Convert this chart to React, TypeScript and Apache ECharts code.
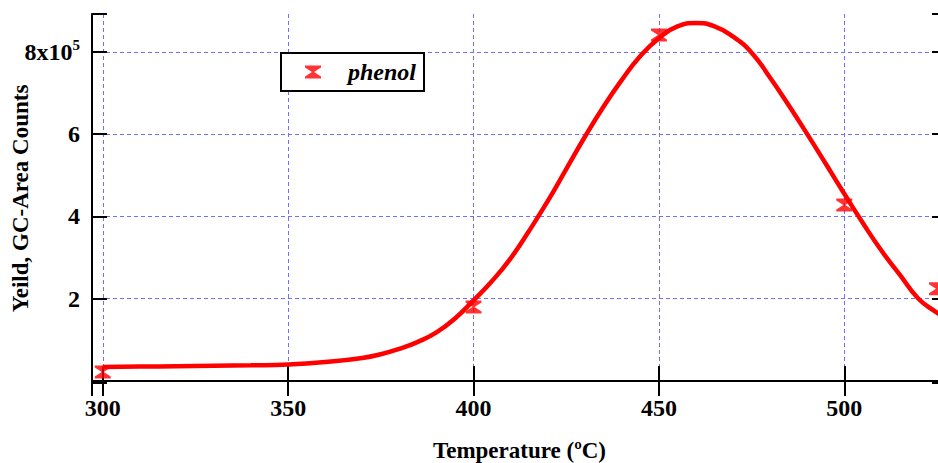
import React, { useEffect, useRef } from "react";
import * as echarts from "echarts";

// Measured phenol yields (GC area counts) at each pyrolysis temperature
const measuredTemps = [300, 400, 450, 500, 525];
const measuredYields = [22000, 180000, 841000, 428000, 224000];

// Fitted yield curve
const fitTemps = [
  300, 310, 320, 330, 340, 350, 360, 370, 375, 380, 385, 390, 395, 400, 405, 410, 415, 420, 425, 430,
  435, 440, 445, 450, 455, 460, 465, 470, 475, 480, 485, 490, 495, 500, 505, 510, 515, 520, 525, 528,
];
const fitYields = [
  34000, 35000, 36000, 37000, 38000, 40000, 46000, 56000, 65000, 78000, 95000, 118000, 152000, 196000, 243000, 298000, 365000, 437000, 515000, 593000,
  666000, 732000, 790000, 833000, 862000, 870000, 862000, 837000, 798000, 737000, 670000, 600000, 528000, 455000, 384000, 317000, 258000, 200000, 166000, 148000,
];

const xTickLabels = ["300", "350", "400", "450", "500"];
const yTickLabels = ["2", "4", "6"];

const SERIF = "'Liberation Serif', 'Times New Roman', serif";
const HOURGLASS = "path://M0,0H16V2L9,6.5L16,11V13H0V11L7,6.5L0,2Z";

export default function App() {
  const ref = useRef<HTMLDivElement>(null);

  useEffect(() => {
    if (!ref.current) return;
    const chart = echarts.init(ref.current, null, { renderer: "svg" });

    const xMin = 297.1;
    const xMax = 527.7;
    const yMin = -4900;
    const yMax = 892000;

    const axisLine = { show: true, lineStyle: { color: "#000", width: 2 } };
    const axisTick = { show: true, inside: true, length: 15, lineStyle: { color: "#000", width: 2 } };
    const gridLine = {
      show: true,
      showMinLine: false,
      showMaxLine: false,
      lineStyle: { color: "#7070ff", width: 1, type: [4, 3] as any },
    };

    chart.setOption({
      animation: false,
      backgroundColor: "#fff",
      grid: { left: 92, right: 13, top: 14, bottom: 80, containLabel: false, outerBoundsMode: "none" },
      legend: {
        data: [{ name: "phenol", icon: HOURGLASS }],
        left: 281,
        top: 53,
        orient: "horizontal",
        itemWidth: 16,
        itemHeight: 13,
        padding: [7, 8, 7, 24],
        borderColor: "#000",
        borderWidth: 2,
        backgroundColor: "#fff",
        selectedMode: false,
        textStyle: {
          fontFamily: SERIF,
          fontSize: 24,
          fontWeight: "bold",
          fontStyle: "italic",
          color: "#000",
          padding: [0, 0, 0, 22],
        },
      },
      xAxis: [
        {
          type: "value",
          min: xMin,
          max: xMax,
          splitNumber: 5,
          axisLine,
          axisTick,
          splitLine: gridLine,
          axisLabel: {
            margin: 13,
            fontFamily: SERIF,
            fontSize: 24,
            fontWeight: "bold",
            color: "#000",
            formatter: (v: number) => (xTickLabels.includes(String(v)) ? String(v) : ""),
          },
          name: "Temperature (ºC)",
          nameLocation: "middle",
          nameGap: 56,
          nameMoveOverlap: false,
          nameTextStyle: { fontFamily: SERIF, fontSize: 23, fontWeight: "bold", color: "#000" },
        },
        {
          type: "value",
          position: "top",
          min: xMin,
          max: xMax,
          splitNumber: 5,
          axisLine,
          axisTick,
          splitLine: { show: false },
          axisLabel: { show: false },
        },
      ],
      yAxis: [
        {
          type: "value",
          min: yMin,
          max: yMax,
          splitNumber: 4,
          axisLine,
          axisTick,
          splitLine: gridLine,
          axisLabel: {
            margin: 12,
            fontFamily: SERIF,
            fontSize: 24,
            fontWeight: "bold",
            color: "#000",
            formatter: (v: number) => {
              if (v === 800000) return "{a|8x10}{s|5}";
              const s = String(v / 100000);
              return yTickLabels.includes(s) ? s : "";
            },
            rich: {
              a: { fontFamily: SERIF, fontSize: 24, fontWeight: "bold", color: "#000", lineHeight: 28 },
              s: { fontFamily: SERIF, fontSize: 15, fontWeight: "bold", color: "#000", lineHeight: 15, verticalAlign: "top" },
            },
          },
          name: "Yeild, GC-Area Counts",
          nameLocation: "middle",
          nameGap: 60,
          nameRotate: 90,
          nameMoveOverlap: false,
          nameTextStyle: { fontFamily: SERIF, fontSize: 23, fontWeight: "bold", color: "#000" },
        },
        {
          type: "value",
          position: "right",
          min: yMin,
          max: yMax,
          splitNumber: 4,
          axisLine,
          axisTick,
          splitLine: { show: false },
          axisLabel: { show: false },
        },
      ],
      series: [
        {
          name: "phenol",
          type: "scatter",
          symbol: HOURGLASS,
          symbolSize: [16, 13],
          itemStyle: { color: "#ff0000" },
          data: measuredTemps.map((t, i) => [t, measuredYields[i]]),
          z: 3,
        },
        {
          name: "fit",
          type: "line",
          smooth: 0.5,
          showSymbol: false,
          silent: true,
          lineStyle: { color: "#ff0000", width: 4.5 },
          itemStyle: { color: "#ff0000" },
          data: fitTemps.map((t, i) => [t, fitYields[i]]),
          z: 4,
        },
      ],
    });

    return () => chart.dispose();
  }, []);

  return (
    <div style={{ position: "fixed", left: 0, top: 0, width: 938, height: 463, overflow: "hidden", background: "#fff" }}>
      <div ref={ref} style={{ width: 960, height: 463 }} />
    </div>
  );
}
